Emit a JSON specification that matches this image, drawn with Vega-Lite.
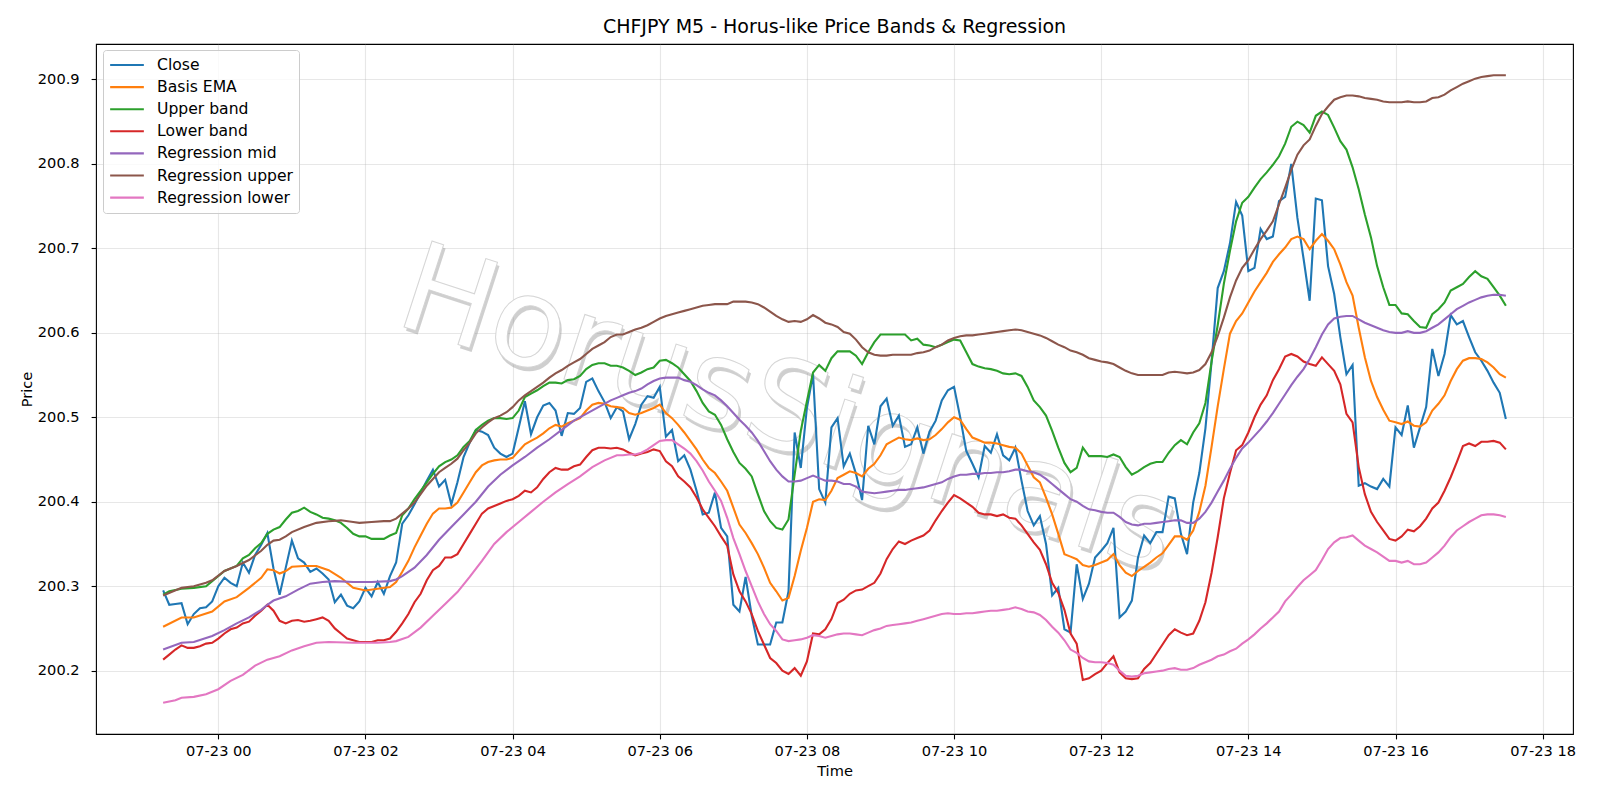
{
  "$schema": "https://vega.github.io/schema/vega-lite/v6.json",
  "width": 1477,
  "height": 690,
  "autosize": {"type": "none"},
  "padding": {"left": 96, "top": 44, "right": 27, "bottom": 66},
  "background": "white",
  "title": {
    "text": "CHFJPY M5 - Horus-like Price Bands & Regression",
    "font": "DejaVu Sans", "fontSize": 19, "fontWeight": "normal", "color": "black",
    "anchor": "middle", "frame": "group", "baseline": "alphabetic", "offset": 12, "dy": 20
  },
  "config": {
    "font": "DejaVu Sans",
    "view": {"stroke": "black", "strokeWidth": 1.1},
    "axis": {
      "domain": false, "grid": true,
      "labelFont": "DejaVu Sans", "labelFontSize": 14.6, "labelColor": "black",
      "titleFont": "DejaVu Sans", "titleFontSize": 14.6, "titleFontWeight": "normal", "titleColor": "black",
      "tickColor": "black", "tickSize": 4.9, "tickWidth": 1.1, "labelPadding": 4.9,
      "gridColor": "#b0b0b0", "gridOpacity": 0.3, "gridWidth": 1.1
    },
    "legend": {
      "orient": "none", "legendX": 7, "legendY": 6,
      "symbolType": "stroke", "symbolSize": 1136, "symbolStrokeWidth": 2.1,
      "labelFont": "DejaVu Sans", "labelFontSize": 15.6, "labelColor": "black",
      "labelOffset": 12, "padding": 6, "rowPadding": 4.1, "clipHeight": 18,
      "fillColor": "rgba(255,255,255,0.8)", "strokeColor": "#cccccc", "strokeWidth": 1, "cornerRadius": 3
    }
  },
  "data": {"values": [
    {"t":"2025-07-22T23:15","c":200.295,"e":200.252,"u":200.290,"l":200.213,"m":200.225,"ru":200.289,"rl":200.162},
    {"t":"2025-07-22T23:20","c":200.278,"u":200.294,"l":200.219},
    {"t":"2025-07-22T23:25","c":200.279,"l":200.225,"rl":200.165},
    {"t":"2025-07-22T23:30","c":200.280,"e":200.263,"u":200.297,"l":200.230,"m":200.233,"ru":200.298,"rl":200.168},
    {"t":"2025-07-22T23:35","c":200.255,"l":200.227},
    {"t":"2025-07-22T23:40","c":200.267,"e":200.263,"u":200.298,"l":200.227,"m":200.234,"ru":200.300,"rl":200.169},
    {"t":"2025-07-22T23:45","c":200.274,"l":200.229},
    {"t":"2025-07-22T23:50","c":200.275,"u":200.300,"l":200.232,"ru":200.304,"rl":200.172},
    {"t":"2025-07-22T23:55","c":200.282,"e":200.270,"u":200.306,"l":200.233,"m":200.241,"ru":200.307},
    {"t":"2025-07-23T00:00","c":200.300,"l":200.238,"rl":200.178},
    {"t":"2025-07-23T00:05","c":200.310,"e":200.282,"u":200.318,"l":200.244,"m":200.248,"ru":200.318},
    {"t":"2025-07-23T00:10","c":200.304,"l":200.249,"rl":200.188},
    {"t":"2025-07-23T00:15","c":200.300,"e":200.287,"u":200.324,"l":200.251,"m":200.256,"ru":200.324},
    {"t":"2025-07-23T00:20","c":200.328,"u":200.333,"l":200.256,"rl":200.195},
    {"t":"2025-07-23T00:25","c":200.316,"e":200.298,"u":200.337,"l":200.258,"m":200.263,"ru":200.331},
    {"t":"2025-07-23T00:30","c":200.337,"u":200.345,"l":200.265,"rl":200.206},
    {"t":"2025-07-23T00:35","c":200.349,"e":200.310,"u":200.351,"l":200.271,"m":200.272,"ru":200.342},
    {"t":"2025-07-23T00:40","c":200.363,"e":200.320,"u":200.362,"l":200.278,"m":200.278,"ru":200.349,"rl":200.213},
    {"t":"2025-07-23T00:45","c":200.321,"e":200.319,"u":200.367,"l":200.271,"m":200.283,"ru":200.354},
    {"t":"2025-07-23T00:50","c":200.290,"e":200.315,"u":200.370,"l":200.259,"ru":200.355,"rl":200.217},
    {"t":"2025-07-23T00:55","c":200.322,"e":200.318,"u":200.379,"l":200.256,"m":200.288,"ru":200.359},
    {"t":"2025-07-23T01:00","c":200.354,"e":200.323,"u":200.387,"l":200.259,"ru":200.364,"rl":200.224},
    {"t":"2025-07-23T01:05","c":200.333,"u":200.389,"l":200.260,"m":200.296},
    {"t":"2025-07-23T01:10","c":200.328,"e":200.324,"u":200.393,"l":200.258,"ru":200.370,"rl":200.229},
    {"t":"2025-07-23T01:15","c":200.317,"u":200.388,"l":200.259,"m":200.303},
    {"t":"2025-07-23T01:20","c":200.321,"e":200.324,"u":200.385,"l":200.261,"ru":200.375,"rl":200.233},
    {"t":"2025-07-23T01:25","c":200.315,"u":200.381,"l":200.263,"m":200.305},
    {"t":"2025-07-23T01:30","c":200.308,"e":200.319,"u":200.380,"l":200.259,"ru":200.377,"rl":200.234},
    {"t":"2025-07-23T01:35","c":200.281,"u":200.378,"l":200.250,"m":200.306},
    {"t":"2025-07-23T01:40","c":200.290,"e":200.310,"u":200.375,"l":200.244,"ru":200.378},
    {"t":"2025-07-23T01:45","c":200.277,"u":200.369,"l":200.238},
    {"t":"2025-07-23T01:50","c":200.274,"e":200.298,"u":200.362,"l":200.236,"m":200.305,"ru":200.376,"rl":200.233},
    {"t":"2025-07-23T01:55","c":200.282,"u":200.359,"l":200.234,"ru":200.375},
    {"t":"2025-07-23T02:00","c":200.298,"e":200.295,"u":200.359,"l":200.234,"rl":200.233},
    {"t":"2025-07-23T02:05","c":200.288,"u":200.356,"l":200.234,"m":200.305,"ru":200.376},
    {"t":"2025-07-23T02:10","c":200.305,"e":200.297,"u":200.356,"l":200.236,"rl":200.233},
    {"t":"2025-07-23T02:15","c":200.291,"u":200.356,"l":200.236,"ru":200.377},
    {"t":"2025-07-23T02:20","c":200.312,"e":200.299,"u":200.360,"l":200.238,"m":200.306,"ru":200.377,"rl":200.234},
    {"t":"2025-07-23T02:25","c":200.328,"e":200.305,"u":200.363,"l":200.246,"m":200.308,"ru":200.380,"rl":200.235},
    {"t":"2025-07-23T02:30","c":200.374,"e":200.317,"u":200.384,"l":200.256,"m":200.312,"ru":200.386},
    {"t":"2025-07-23T02:35","c":200.384,"e":200.330,"u":200.392,"l":200.267,"ru":200.392,"rl":200.240},
    {"t":"2025-07-23T02:40","c":200.397,"e":200.346,"u":200.403,"l":200.281,"m":200.322,"ru":200.399},
    {"t":"2025-07-23T02:45","c":200.411,"e":200.360,"u":200.413,"l":200.291,"ru":200.409,"rl":200.251},
    {"t":"2025-07-23T02:50","c":200.425,"e":200.374,"u":200.423,"l":200.307,"m":200.337,"ru":200.419},
    {"t":"2025-07-23T02:55","c":200.438,"e":200.386,"u":200.433,"l":200.319,"ru":200.427,"rl":200.265},
    {"t":"2025-07-23T03:00","c":200.418,"e":200.392,"u":200.442,"l":200.324,"m":200.355,"ru":200.435},
    {"t":"2025-07-23T03:05","c":200.426,"e":200.392,"u":200.447,"l":200.334,"ru":200.440,"rl":200.279},
    {"t":"2025-07-23T03:10","c":200.397,"e":200.393,"u":200.450,"l":200.334,"m":200.370,"ru":200.445},
    {"t":"2025-07-23T03:15","c":200.423,"e":200.399,"u":200.455,"l":200.338,"ru":200.451,"rl":200.293},
    {"t":"2025-07-23T03:20","c":200.453,"e":200.411,"u":200.465,"l":200.350,"m":200.385,"ru":200.461},
    {"t":"2025-07-23T03:25","c":200.470,"e":200.423,"u":200.472,"l":200.362,"ru":200.470,"rl":200.311},
    {"t":"2025-07-23T03:30","c":200.485,"e":200.435,"u":200.485,"l":200.374,"m":200.400,"ru":200.481},
    {"t":"2025-07-23T03:35","c":200.483,"e":200.443,"u":200.491,"l":200.386,"ru":200.488,"rl":200.330},
    {"t":"2025-07-23T03:40","c":200.479,"e":200.447,"u":200.496,"l":200.392,"m":200.418,"ru":200.494},
    {"t":"2025-07-23T03:45","c":200.464,"e":200.449,"u":200.499,"l":200.395,"ru":200.499,"rl":200.350},
    {"t":"2025-07-23T03:50","c":200.457,"e":200.450,"u":200.499,"l":200.398,"m":200.432,"ru":200.502},
    {"t":"2025-07-23T03:55","c":200.453,"e":200.450,"u":200.498,"l":200.401,"ru":200.506,"rl":200.364},
    {"t":"2025-07-23T04:00","c":200.457,"e":200.452,"u":200.499,"l":200.403,"m":200.443,"ru":200.512},
    {"t":"2025-07-23T04:05","c":200.488,"e":200.460,"u":200.508,"l":200.407,"ru":200.520,"rl":200.376},
    {"t":"2025-07-23T04:10","c":200.519,"e":200.468,"u":200.524,"l":200.413,"m":200.453,"ru":200.526},
    {"t":"2025-07-23T04:15","c":200.480,"e":200.472,"u":200.528,"l":200.411,"ru":200.531,"rl":200.388},
    {"t":"2025-07-23T04:20","c":200.500,"e":200.476,"u":200.532,"l":200.417,"m":200.464,"ru":200.536},
    {"t":"2025-07-23T04:25","c":200.514,"e":200.481,"u":200.537,"l":200.427,"ru":200.541,"rl":200.400},
    {"t":"2025-07-23T04:30","c":200.517,"e":200.487,"u":200.541,"l":200.435,"m":200.474,"ru":200.547},
    {"t":"2025-07-23T04:35","c":200.508,"e":200.491,"u":200.541,"l":200.440,"ru":200.552,"rl":200.411},
    {"t":"2025-07-23T04:40","c":200.478,"e":200.489,"u":200.540,"l":200.438,"m":200.485,"ru":200.556},
    {"t":"2025-07-23T04:45","c":200.505,"e":200.493,"u":200.544,"l":200.438,"ru":200.561,"rl":200.421},
    {"t":"2025-07-23T04:50","c":200.504,"e":200.496,"u":200.545,"l":200.442,"m":200.496,"ru":200.565},
    {"t":"2025-07-23T04:55","c":200.511,"e":200.499,"u":200.549,"l":200.444,"ru":200.569,"rl":200.430},
    {"t":"2025-07-23T05:00","c":200.542,"e":200.508,"u":200.557,"l":200.453,"m":200.504,"ru":200.575},
    {"t":"2025-07-23T05:05","c":200.546,"e":200.515,"u":200.562,"l":200.461,"ru":200.581,"rl":200.441},
    {"t":"2025-07-23T05:10","c":200.531,"e":200.517,"u":200.564,"l":200.464,"m":200.512,"ru":200.585},
    {"t":"2025-07-23T05:15","c":200.518,"e":200.516,"u":200.564,"l":200.464,"ru":200.589,"rl":200.449},
    {"t":"2025-07-23T05:20","c":200.499,"e":200.513,"u":200.561,"l":200.463,"m":200.520,"ru":200.595},
    {"t":"2025-07-23T05:25","c":200.512,"e":200.512,"u":200.561,"l":200.464,"m":200.523,"ru":200.598,"rl":200.455},
    {"t":"2025-07-23T05:30","c":200.507,"e":200.511,"u":200.559,"l":200.462,"m":200.526,"ru":200.598,"rl":200.455},
    {"t":"2025-07-23T05:35","c":200.474,"e":200.505,"u":200.555,"l":200.458,"m":200.529,"ru":200.601,"rl":200.456},
    {"t":"2025-07-23T05:40","c":200.492,"e":200.503,"u":200.550,"l":200.455,"m":200.531,"ru":200.604,"rl":200.456},
    {"t":"2025-07-23T05:45","c":200.515,"e":200.505,"u":200.553,"l":200.457,"m":200.534,"ru":200.606,"rl":200.458},
    {"t":"2025-07-23T05:50","c":200.525,"e":200.508,"u":200.557,"l":200.459,"m":200.539,"ru":200.609,"rl":200.462},
    {"t":"2025-07-23T05:55","c":200.523,"e":200.511,"u":200.559,"l":200.462,"m":200.543,"ru":200.613,"rl":200.467},
    {"t":"2025-07-23T06:00","c":200.536,"e":200.515,"u":200.567,"l":200.460,"m":200.546,"ru":200.617,"rl":200.472},
    {"t":"2025-07-23T06:05","c":200.477,"e":200.505,"u":200.568,"l":200.448,"m":200.547,"ru":200.620,"rl":200.473},
    {"t":"2025-07-23T06:10","c":200.485,"e":200.499,"u":200.564,"l":200.442,"m":200.547,"ru":200.622,"rl":200.473},
    {"t":"2025-07-23T06:15","c":200.448,"e":200.491,"u":200.559,"l":200.430,"m":200.547,"ru":200.624,"rl":200.468},
    {"t":"2025-07-23T06:20","c":200.455,"e":200.482,"u":200.551,"l":200.424,"m":200.544,"ru":200.626,"rl":200.463},
    {"t":"2025-07-23T06:25","c":200.438,"e":200.472,"u":200.543,"l":200.417,"m":200.542,"ru":200.628,"rl":200.457},
    {"t":"2025-07-23T06:30","c":200.413,"e":200.462,"u":200.531,"l":200.405,"m":200.538,"ru":200.630,"rl":200.448},
    {"t":"2025-07-23T06:35","c":200.385,"e":200.450,"u":200.517,"l":200.391,"m":200.533,"ru":200.632,"rl":200.437},
    {"t":"2025-07-23T06:40","c":200.387,"e":200.440,"u":200.507,"l":200.381,"m":200.529,"ru":200.633,"rl":200.424},
    {"t":"2025-07-23T06:45","c":200.411,"e":200.434,"u":200.503,"l":200.371,"m":200.526,"ru":200.634,"rl":200.413},
    {"t":"2025-07-23T06:50","c":200.369,"e":200.424,"u":200.491,"l":200.359,"m":200.520,"ru":200.634,"rl":200.401},
    {"t":"2025-07-23T06:55","c":200.359,"e":200.413,"u":200.474,"l":200.348,"m":200.513,"ru":200.634,"rl":200.381},
    {"t":"2025-07-23T07:00","c":200.278,"e":200.393,"u":200.459,"l":200.314,"m":200.505,"ru":200.637,"rl":200.357},
    {"t":"2025-07-23T07:05","c":200.270,"e":200.373,"u":200.446,"l":200.294,"m":200.497,"ru":200.637,"rl":200.338},
    {"t":"2025-07-23T07:10","c":200.311,"e":200.363,"u":200.439,"l":200.282,"m":200.490,"ru":200.637,"rl":200.318},
    {"t":"2025-07-23T07:15","c":200.265,"e":200.351,"u":200.430,"l":200.267,"m":200.482,"ru":200.636,"rl":200.300},
    {"t":"2025-07-23T07:20","c":200.231,"e":200.338,"u":200.409,"l":200.247,"m":200.472,"ru":200.634,"rl":200.282},
    {"t":"2025-07-23T07:25","c":200.231,"e":200.322,"u":200.389,"l":200.231,"m":200.460,"ru":200.630,"rl":200.267},
    {"t":"2025-07-23T07:30","c":200.231,"e":200.304,"u":200.377,"l":200.215,"m":200.448,"ru":200.625,"rl":200.255},
    {"t":"2025-07-23T07:35","c":200.257,"e":200.294,"u":200.369,"l":200.209,"m":200.438,"ru":200.620,"rl":200.247},
    {"t":"2025-07-23T07:40","c":200.257,"e":200.283,"u":200.367,"l":200.200,"m":200.430,"ru":200.616,"rl":200.237},
    {"t":"2025-07-23T07:45","c":200.294,"e":200.286,"u":200.379,"l":200.196,"m":200.424,"ru":200.613,"rl":200.235},
    {"t":"2025-07-23T07:50","c":200.482,"e":200.312,"u":200.432,"l":200.203,"m":200.424,"ru":200.614,"rl":200.236},
    {"t":"2025-07-23T07:55","c":200.440,"e":200.342,"u":200.484,"l":200.194,"m":200.425,"ru":200.613,"rl":200.237},
    {"t":"2025-07-23T08:00","c":200.511,"e":200.369,"u":200.519,"l":200.211,"m":200.428,"ru":200.616,"rl":200.239},
    {"t":"2025-07-23T08:05","c":200.551,"e":200.400,"u":200.553,"l":200.244,"m":200.431,"ru":200.621,"rl":200.242},
    {"t":"2025-07-23T08:10","c":200.415,"e":200.403,"u":200.562,"l":200.243,"m":200.428,"ru":200.617,"rl":200.241},
    {"t":"2025-07-23T08:15","c":200.399,"e":200.402,"u":200.555,"l":200.249,"m":200.425,"ru":200.612,"rl":200.239},
    {"t":"2025-07-23T08:20","c":200.488,"e":200.413,"u":200.570,"l":200.261,"m":200.425,"ru":200.610,"rl":200.241},
    {"t":"2025-07-23T08:25","c":200.499,"e":200.428,"u":200.578,"l":200.280,"m":200.424,"ru":200.607,"rl":200.243},
    {"t":"2025-07-23T08:30","c":200.442,"e":200.432,"u":200.578,"l":200.284,"m":200.421,"ru":200.601,"rl":200.244},
    {"t":"2025-07-23T08:35","c":200.457,"e":200.436,"u":200.578,"l":200.291,"m":200.421,"ru":200.599,"rl":200.244},
    {"t":"2025-07-23T08:40","c":200.433,"e":200.434,"u":200.573,"l":200.295,"m":200.418,"ru":200.592,"rl":200.243},
    {"t":"2025-07-23T08:45","c":200.402,"e":200.430,"u":200.563,"l":200.296,"m":200.412,"ru":200.583,"rl":200.242},
    {"t":"2025-07-23T08:50","c":200.490,"e":200.439,"u":200.577,"l":200.300,"m":200.411,"ru":200.577,"rl":200.245},
    {"t":"2025-07-23T08:55","c":200.468,"e":200.445,"u":200.589,"l":200.304,"m":200.410,"ru":200.574,"rl":200.248},
    {"t":"2025-07-23T09:00","c":200.513,"e":200.455,"u":200.598,"l":200.315,"m":200.411,"ru":200.573,"rl":200.250},
    {"t":"2025-07-23T09:05","c":200.522,"e":200.468,"u":200.598,"l":200.332,"m":200.412,"ru":200.573,"rl":200.253},
    {"t":"2025-07-23T09:10","c":200.490,"e":200.472,"u":200.598,"l":200.344,"m":200.413,"ru":200.574,"rl":200.254},
    {"t":"2025-07-23T09:15","c":200.502,"e":200.476,"u":200.598,"l":200.353,"m":200.414,"ru":200.574,"rl":200.255},
    {"t":"2025-07-23T09:20","c":200.465,"e":200.474,"u":200.598,"l":200.350,"m":200.414,"ru":200.574,"rl":200.256},
    {"t":"2025-07-23T09:25","c":200.468,"e":200.473,"u":200.591,"l":200.354,"m":200.415,"ru":200.574,"rl":200.257},
    {"t":"2025-07-23T09:30","c":200.488,"e":200.475,"u":200.593,"l":200.357,"m":200.416,"ru":200.576,"rl":200.259},
    {"t":"2025-07-23T09:35","c":200.457,"e":200.473,"u":200.586,"l":200.360,"m":200.417,"ru":200.577,"rl":200.261},
    {"t":"2025-07-23T09:40","c":200.483,"e":200.474,"u":200.585,"l":200.366,"m":200.419,"ru":200.579,"rl":200.263},
    {"t":"2025-07-23T09:45","c":200.496,"e":200.479,"u":200.583,"l":200.378,"m":200.421,"ru":200.583,"rl":200.265},
    {"t":"2025-07-23T09:50","c":200.520,"e":200.486,"u":200.586,"l":200.389,"m":200.423,"ru":200.586,"rl":200.267},
    {"t":"2025-07-23T09:55","c":200.532,"e":200.494,"u":200.589,"l":200.399,"m":200.427,"ru":200.591,"rl":200.268},
    {"t":"2025-07-23T10:00","c":200.536,"e":200.500,"u":200.592,"l":200.408,"m":200.430,"ru":200.594,"rl":200.267},
    {"t":"2025-07-23T10:05","c":200.500,"e":200.497,"u":200.591,"l":200.404,"m":200.432,"ru":200.596,"rl":200.267},
    {"t":"2025-07-23T10:10","c":200.460,"e":200.486,"u":200.577,"l":200.399,"m":200.432,"ru":200.597,"rl":200.268},
    {"t":"2025-07-23T10:15","c":200.445,"e":200.476,"u":200.563,"l":200.394,"m":200.433,"ru":200.597,"rl":200.268},
    {"t":"2025-07-23T10:20","c":200.429,"e":200.473,"u":200.560,"l":200.387,"m":200.433,"ru":200.598,"rl":200.269},
    {"t":"2025-07-23T10:25","c":200.466,"e":200.470,"u":200.558,"l":200.385,"m":200.434,"ru":200.599,"rl":200.270},
    {"t":"2025-07-23T10:30","c":200.458,"e":200.470,"u":200.557,"l":200.385,"m":200.434,"ru":200.600,"rl":200.271},
    {"t":"2025-07-23T10:35","c":200.480,"e":200.469,"u":200.555,"l":200.383,"m":200.435,"ru":200.601,"rl":200.271},
    {"t":"2025-07-23T10:40","c":200.455,"e":200.467,"u":200.552,"l":200.385,"m":200.435,"ru":200.602,"rl":200.272},
    {"t":"2025-07-23T10:45","c":200.449,"e":200.465,"u":200.551,"l":200.381,"m":200.436,"ru":200.603,"rl":200.273},
    {"t":"2025-07-23T10:50","c":200.464,"e":200.464,"u":200.552,"l":200.380,"m":200.438,"ru":200.604,"rl":200.275},
    {"t":"2025-07-23T10:55","c":200.425,"e":200.457,"u":200.549,"l":200.372,"m":200.438,"ru":200.603,"rl":200.273},
    {"t":"2025-07-23T11:00","c":200.389,"e":200.443,"u":200.536,"l":200.362,"m":200.436,"ru":200.601,"rl":200.270},
    {"t":"2025-07-23T11:05","c":200.372,"e":200.429,"u":200.520,"l":200.352,"m":200.435,"ru":200.599,"rl":200.269},
    {"t":"2025-07-23T11:10","c":200.383,"e":200.423,"u":200.512,"l":200.343,"m":200.432,"ru":200.597,"rl":200.266},
    {"t":"2025-07-23T11:15","c":200.350,"e":200.405,"u":200.502,"l":200.326,"m":200.427,"ru":200.594,"rl":200.260},
    {"t":"2025-07-23T11:20","c":200.289,"e":200.385,"u":200.484,"l":200.304,"m":200.421,"ru":200.590,"rl":200.252},
    {"t":"2025-07-23T11:25","c":200.298,"e":200.362,"u":200.464,"l":200.292,"m":200.415,"ru":200.586,"rl":200.245},
    {"t":"2025-07-23T11:30","c":200.249,"e":200.338,"u":200.446,"l":200.272,"m":200.409,"ru":200.583,"rl":200.236},
    {"t":"2025-07-23T11:35","c":200.245,"e":200.335,"u":200.435,"l":200.244,"m":200.403,"ru":200.579,"rl":200.225},
    {"t":"2025-07-23T11:40","c":200.326,"e":200.332,"u":200.440,"l":200.232,"m":200.400,"ru":200.577,"rl":200.221},
    {"t":"2025-07-23T11:45","c":200.285,"e":200.325,"u":200.464,"l":200.189,"m":200.395,"ru":200.574,"rl":200.215},
    {"t":"2025-07-23T11:50","c":200.303,"e":200.323,"u":200.454,"l":200.191,"m":200.391,"ru":200.570,"rl":200.211},
    {"t":"2025-07-23T11:55","c":200.334,"e":200.325,"u":200.454,"l":200.196,"m":200.390,"ru":200.568,"rl":200.210},
    {"t":"2025-07-23T12:00","c":200.342,"e":200.328,"u":200.454,"l":200.200,"m":200.388,"ru":200.566,"rl":200.210},
    {"t":"2025-07-23T12:05","c":200.351,"e":200.331,"u":200.453,"l":200.209,"m":200.387,"ru":200.565,"rl":200.209},
    {"t":"2025-07-23T12:10","c":200.369,"e":200.338,"u":200.456,"l":200.217,"m":200.387,"ru":200.563,"rl":200.207},
    {"t":"2025-07-23T12:15","c":200.263,"e":200.325,"u":200.453,"l":200.198,"m":200.382,"ru":200.559,"rl":200.200},
    {"t":"2025-07-23T12:20","c":200.270,"e":200.316,"u":200.441,"l":200.191,"m":200.376,"ru":200.555,"rl":200.194},
    {"t":"2025-07-23T12:25","c":200.283,"e":200.312,"u":200.432,"l":200.190,"m":200.373,"ru":200.552,"rl":200.193},
    {"t":"2025-07-23T12:30","c":200.334,"e":200.318,"u":200.436,"l":200.191,"m":200.372,"ru":200.550,"rl":200.194},
    {"t":"2025-07-23T12:35","c":200.360,"e":200.323,"u":200.441,"l":200.202,"m":200.374,"ru":200.550,"rl":200.197},
    {"t":"2025-07-23T12:40","c":200.351,"e":200.328,"u":200.445,"l":200.209,"m":200.374,"ru":200.550,"rl":200.198},
    {"t":"2025-07-23T12:45","c":200.364,"e":200.334,"u":200.447,"l":200.220,"m":200.375,"ru":200.550,"rl":200.199},
    {"t":"2025-07-23T12:50","c":200.364,"e":200.339,"u":200.447,"l":200.231,"m":200.376,"ru":200.550,"rl":200.200},
    {"t":"2025-07-23T12:55","c":200.406,"e":200.349,"u":200.458,"l":200.242,"m":200.377,"ru":200.553,"rl":200.202},
    {"t":"2025-07-23T13:00","c":200.404,"e":200.359,"u":200.467,"l":200.249,"m":200.378,"ru":200.554,"rl":200.203},
    {"t":"2025-07-23T13:05","c":200.362,"e":200.359,"u":200.473,"l":200.245,"m":200.378,"ru":200.553,"rl":200.201},
    {"t":"2025-07-23T13:10","c":200.338,"e":200.355,"u":200.468,"l":200.242,"m":200.375,"ru":200.552,"rl":200.201},
    {"t":"2025-07-23T13:15","c":200.399,"e":200.366,"u":200.482,"l":200.244,"m":200.375,"ru":200.553,"rl":200.203},
    {"t":"2025-07-23T13:20","c":200.434,"e":200.388,"u":200.493,"l":200.259,"m":200.380,"ru":200.556,"rl":200.207},
    {"t":"2025-07-23T13:25","c":200.487,"e":200.419,"u":200.517,"l":200.281,"m":200.388,"ru":200.563,"rl":200.210},
    {"t":"2025-07-23T13:30","c":200.566,"e":200.465,"u":200.566,"l":200.316,"m":200.399,"ru":200.577,"rl":200.213},
    {"t":"2025-07-23T13:35","c":200.653,"e":200.513,"u":200.609,"l":200.358,"m":200.412,"ru":200.596,"rl":200.217},
    {"t":"2025-07-23T13:40","c":200.673,"e":200.557,"u":200.658,"l":200.404,"m":200.425,"ru":200.618,"rl":200.219},
    {"t":"2025-07-23T13:45","c":200.706,"e":200.599,"u":200.697,"l":200.434,"m":200.439,"ru":200.642,"rl":200.223},
    {"t":"2025-07-23T13:50","c":200.755,"e":200.614,"u":200.732,"l":200.461,"m":200.452,"ru":200.662,"rl":200.226},
    {"t":"2025-07-23T13:55","c":200.739,"e":200.623,"u":200.754,"l":200.467,"m":200.463,"ru":200.677,"rl":200.232},
    {"t":"2025-07-23T14:00","c":200.673,"e":200.636,"u":200.761,"l":200.482,"m":200.470,"ru":200.686,"rl":200.237},
    {"t":"2025-07-23T14:05","c":200.677,"e":200.649,"u":200.772,"l":200.500,"m":200.478,"ru":200.699,"rl":200.243},
    {"t":"2025-07-23T14:10","c":200.723,"e":200.660,"u":200.782,"l":200.515,"m":200.486,"ru":200.711,"rl":200.250},
    {"t":"2025-07-23T14:15","c":200.711,"e":200.671,"u":200.790,"l":200.526,"m":200.495,"ru":200.721,"rl":200.256},
    {"t":"2025-07-23T14:20","c":200.714,"e":200.684,"u":200.799,"l":200.544,"m":200.505,"ru":200.732,"rl":200.263},
    {"t":"2025-07-23T14:25","c":200.756,"e":200.693,"u":200.809,"l":200.557,"m":200.516,"ru":200.752,"rl":200.270},
    {"t":"2025-07-23T14:30","c":200.761,"e":200.701,"u":200.824,"l":200.572,"m":200.527,"ru":200.772,"rl":200.282},
    {"t":"2025-07-23T14:35","c":200.800,"e":200.711,"u":200.844,"l":200.575,"m":200.538,"ru":200.793,"rl":200.290},
    {"t":"2025-07-23T14:40","c":200.736,"e":200.714,"u":200.850,"l":200.572,"m":200.548,"ru":200.811,"rl":200.299},
    {"t":"2025-07-23T14:45","c":200.688,"e":200.711,"u":200.846,"l":200.566,"m":200.557,"ru":200.822,"rl":200.307},
    {"t":"2025-07-23T14:50","c":200.638,"e":200.699,"u":200.837,"l":200.563,"m":200.569,"ru":200.829,"rl":200.313},
    {"t":"2025-07-23T14:55","c":200.759,"e":200.709,"u":200.857,"l":200.561,"m":200.583,"ru":200.845,"rl":200.319},
    {"t":"2025-07-23T15:00","c":200.757,"e":200.717,"u":200.862,"l":200.571,"m":200.598,"ru":200.859,"rl":200.331},
    {"t":"2025-07-23T15:05","c":200.679,"e":200.709,"u":200.858,"l":200.563,"m":200.610,"ru":200.868,"rl":200.344},
    {"t":"2025-07-23T15:10","c":200.646,"e":200.699,"u":200.843,"l":200.555,"m":200.617,"ru":200.876,"rl":200.352},
    {"t":"2025-07-23T15:15","c":200.595,"e":200.681,"u":200.827,"l":200.539,"m":200.619,"ru":200.879,"rl":200.357},
    {"t":"2025-07-23T15:20","c":200.551,"e":200.660,"u":200.817,"l":200.504,"m":200.620,"ru":200.881,"rl":200.358},
    {"t":"2025-07-23T15:25","c":200.562,"e":200.644,"u":200.796,"l":200.494,"m":200.620,"ru":200.881,"rl":200.360},
    {"t":"2025-07-23T15:30","c":200.419,"e":200.606,"u":200.770,"l":200.441,"m":200.616,"ru":200.880,"rl":200.354},
    {"t":"2025-07-23T15:35","c":200.422,"e":200.571,"u":200.740,"l":200.409,"m":200.612,"ru":200.878,"rl":200.348},
    {"t":"2025-07-23T15:40","c":200.418,"e":200.543,"u":200.713,"l":200.388,"m":200.609,"ru":200.877,"rl":200.344},
    {"t":"2025-07-23T15:45","c":200.415,"e":200.524,"u":200.679,"l":200.376,"m":200.606,"ru":200.876,"rl":200.340},
    {"t":"2025-07-23T15:50","c":200.427,"e":200.509,"u":200.654,"l":200.366,"m":200.603,"ru":200.874,"rl":200.335},
    {"t":"2025-07-23T15:55","c":200.418,"e":200.496,"u":200.633,"l":200.356,"m":200.601,"ru":200.873,"rl":200.330},
    {"t":"2025-07-23T16:00","c":200.488,"e":200.494,"u":200.633,"l":200.354,"m":200.600,"ru":200.873,"rl":200.330},
    {"t":"2025-07-23T16:05","c":200.479,"e":200.492,"u":200.623,"l":200.359,"m":200.600,"ru":200.873,"rl":200.328},
    {"t":"2025-07-23T16:10","c":200.514,"e":200.495,"u":200.622,"l":200.367,"m":200.602,"ru":200.874,"rl":200.330},
    {"t":"2025-07-23T16:15","c":200.464,"e":200.490,"u":200.614,"l":200.365,"m":200.600,"ru":200.873,"rl":200.326},
    {"t":"2025-07-23T16:20","c":200.488,"e":200.489,"u":200.607,"l":200.371,"m":200.600,"ru":200.873,"rl":200.326},
    {"t":"2025-07-23T16:25","c":200.512,"e":200.494,"u":200.606,"l":200.380,"m":200.602,"ru":200.874,"rl":200.328},
    {"t":"2025-07-23T16:30","c":200.581,"e":200.508,"u":200.622,"l":200.392,"m":200.606,"ru":200.878,"rl":200.334},
    {"t":"2025-07-23T16:35","c":200.549,"e":200.516,"u":200.628,"l":200.399,"m":200.610,"ru":200.879,"rl":200.340},
    {"t":"2025-07-23T16:40","c":200.575,"e":200.526,"u":200.636,"l":200.413,"m":200.616,"ru":200.882,"rl":200.348},
    {"t":"2025-07-23T16:45","c":200.621,"e":200.543,"u":200.650,"l":200.429,"m":200.622,"ru":200.887,"rl":200.358},
    {"t":"2025-07-23T16:50","c":200.610,"e":200.557,"u":200.654,"l":200.447,"m":200.628,"ru":200.891,"rl":200.366},
    {"t":"2025-07-23T16:55","c":200.614,"e":200.567,"u":200.658,"l":200.466,"m":200.632,"ru":200.895,"rl":200.371},
    {"t":"2025-07-23T17:00","c":200.595,"e":200.570,"u":200.666,"l":200.469,"m":200.636,"ru":200.898,"rl":200.376},
    {"t":"2025-07-23T17:05","c":200.577,"e":200.570,"u":200.673,"l":200.466,"m":200.639,"ru":200.901,"rl":200.380},
    {"t":"2025-07-23T17:10","c":200.567,"e":200.569,"u":200.667,"l":200.471,"m":200.642,"ru":200.903,"rl":200.384},
    {"t":"2025-07-23T17:15","c":200.555,"e":200.565,"u":200.664,"l":200.471,"m":200.644,"ru":200.904,"rl":200.385},
    {"t":"2025-07-23T17:20","c":200.541,"e":200.559,"u":200.654,"l":200.472,"m":200.645,"ru":200.905,"rl":200.385},
    {"t":"2025-07-23T17:25","c":200.529,"e":200.551,"u":200.644,"l":200.470,"m":200.645,"ru":200.905,"rl":200.384},
    {"t":"2025-07-23T17:30","c":200.498,"e":200.547,"u":200.632,"l":200.462,"m":200.644,"ru":200.905,"rl":200.382}
  ]},
  "encoding": {
    "x": {
      "field": "t", "type": "temporal", "title": "Time",
      "scale": {"domain": [
        {"year": 2025, "month": 7, "date": 22, "hours": 22, "minutes": 20, "seconds": 15},
        {"year": 2025, "month": 7, "date": 23, "hours": 18, "minutes": 24, "seconds": 45}
      ]},
      "axis": {
        "format": "%m-%d %H", "labelAngle": 0, "titlePadding": 5, "grid": true,
        "values": [
          {"year": 2025, "month": 7, "date": 23, "hours": 0},
          {"year": 2025, "month": 7, "date": 23, "hours": 2},
          {"year": 2025, "month": 7, "date": 23, "hours": 4},
          {"year": 2025, "month": 7, "date": 23, "hours": 6},
          {"year": 2025, "month": 7, "date": 23, "hours": 8},
          {"year": 2025, "month": 7, "date": 23, "hours": 10},
          {"year": 2025, "month": 7, "date": 23, "hours": 12},
          {"year": 2025, "month": 7, "date": 23, "hours": 14},
          {"year": 2025, "month": 7, "date": 23, "hours": 16},
          {"year": 2025, "month": 7, "date": 23, "hours": 18}
        ]
      }
    },
    "y": {
      "field": "c", "type": "quantitative", "title": "Price",
      "scale": {"domain": [200.125, 200.942], "nice": false, "zero": false},
      "axis": {"values": [200.2, 200.3, 200.4, 200.5, 200.6, 200.7, 200.8, 200.9], "format": ".1f", "grid": true, "labelPadding": 12, "titlePadding": 3}
    }
  },
  "layer": [
    {
      "transform": [{"filter": {"timeUnit": "hoursminutes", "field": "t", "equal": {"hours": 7, "minutes": 45}}}],
      "mark": {"type": "text", "text": "HorusSignals", "font": "DejaVu Sans", "fontSize": 124, "angle": 18,
               "align": "center", "baseline": "middle", "color": "#8f8f8f", "opacity": 0.42, "dx": 3, "dy": 3},
      "encoding": {"y": {"datum": 200.505, "type": "quantitative"}}
    },
    {
      "transform": [{"filter": {"timeUnit": "hoursminutes", "field": "t", "equal": {"hours": 7, "minutes": 45}}}],
      "mark": {"type": "text", "text": "HorusSignals", "font": "DejaVu Sans", "fontSize": 124, "angle": 18,
               "align": "center", "baseline": "middle", "fill": "#ffffff", "fillOpacity": 1,
               "stroke": "#d0d0d0", "strokeWidth": 1, "strokeOpacity": 0.9},
      "encoding": {"y": {"datum": 200.505, "type": "quantitative"}}
    },
    {
      "transform": [{"filter": "isValid(datum.c)"}],
      "mark": {"type": "line", "strokeWidth": 2.1},
      "encoding": {
        "color": {"datum": "Close", "title": null,
                  "scale": {"domain": ["Close", "Basis EMA", "Upper band", "Lower band", "Regression mid", "Regression upper", "Regression lower"],
                            "range": ["#1f77b4", "#ff7f0e", "#2ca02c", "#d62728", "#9467bd", "#8c564b", "#e377c2"]}}
      }
    },
    {
      "transform": [{"filter": "isValid(datum.e)"}],
      "mark": {"type": "line", "strokeWidth": 2.1},
      "encoding": {"y": {"field": "e", "type": "quantitative", "title": "Price"}, "color": {"datum": "Basis EMA"}}
    },
    {
      "transform": [{"filter": "isValid(datum.u)"}],
      "mark": {"type": "line", "strokeWidth": 2.1},
      "encoding": {"y": {"field": "u", "type": "quantitative", "title": "Price"}, "color": {"datum": "Upper band"}}
    },
    {
      "transform": [{"filter": "isValid(datum.l)"}],
      "mark": {"type": "line", "strokeWidth": 2.1},
      "encoding": {"y": {"field": "l", "type": "quantitative", "title": "Price"}, "color": {"datum": "Lower band"}}
    },
    {
      "transform": [{"filter": "isValid(datum.m)"}],
      "mark": {"type": "line", "strokeWidth": 2.1},
      "encoding": {"y": {"field": "m", "type": "quantitative", "title": "Price"}, "color": {"datum": "Regression mid"}}
    },
    {
      "transform": [{"filter": "isValid(datum.ru)"}],
      "mark": {"type": "line", "strokeWidth": 2.1},
      "encoding": {"y": {"field": "ru", "type": "quantitative", "title": "Price"}, "color": {"datum": "Regression upper"}}
    },
    {
      "transform": [{"filter": "isValid(datum.rl)"}],
      "mark": {"type": "line", "strokeWidth": 2.1},
      "encoding": {"y": {"field": "rl", "type": "quantitative", "title": "Price"}, "color": {"datum": "Regression lower"}}
    }
  ]
}
